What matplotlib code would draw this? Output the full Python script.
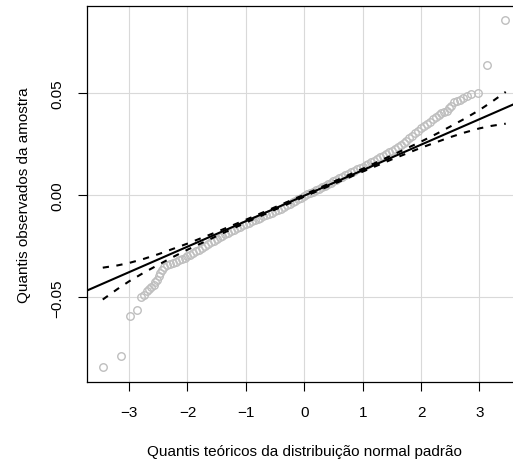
import matplotlib
matplotlib.use('Agg')
import matplotlib.pyplot as plt
import numpy as np

plt.rcParams['font.family'] = ['Liberation Sans', 'DejaVu Sans']

# observed quantiles read off the picture (theoretical, sample)
# lower tail
low_x = [-3.45, -3.13, -2.98, -2.87, -2.80, -2.75, -2.69, -2.66, -2.62, -2.58, -2.55, -2.52, -2.49, -2.47, -2.43]
low_y = [-0.0840, -0.0789, -0.0590, -0.0564, -0.0500, -0.0489, -0.0468, -0.0459, -0.0451, -0.0440, -0.0427, -0.0414, -0.0397, -0.0381, -0.0365]
# dense middle band
band_x = [-2.40, -2.35, -2.30, -2.25, -2.20, -2.15, -2.10, -2.05, -2.00, -1.95, -1.90, -1.85, -1.80, -1.75, -1.70, -1.65,
          -1.60, -1.55, -1.50, -1.45, -1.40, -1.35, -1.30, -1.25, -1.20, -1.15, -1.10, -1.05, -1.00, -0.95, -0.90, -0.85,
          -0.80, -0.75, -0.70, -0.65, -0.60, -0.55, -0.50, -0.45, -0.40, -0.35, -0.30, -0.25, -0.20, -0.15, -0.10, -0.05,
          0.00, 0.05, 0.10, 0.15, 0.20, 0.25, 0.30, 0.35, 0.40, 0.45, 0.50, 0.55, 0.60, 0.65, 0.70, 0.75,
          0.80, 0.85, 0.90, 0.95, 1.00, 1.05, 1.10, 1.15, 1.20, 1.25, 1.30, 1.35, 1.40, 1.45, 1.50, 1.55,
          1.60, 1.65, 1.70, 1.75, 1.80, 1.85, 1.90, 1.95, 2.00, 2.05, 2.10, 2.15, 2.20, 2.25, 2.30, 2.35, 2.40]
band_y = [-0.0352, -0.0344, -0.0337, -0.0331, -0.0325, -0.0319, -0.0313, -0.0307, -0.0300, -0.0291, -0.0282, -0.0274,
          -0.0266, -0.0257, -0.0249, -0.0240, -0.0231, -0.0222, -0.0214, -0.0206, -0.0199, -0.0191, -0.0184, -0.0177,
          -0.0170, -0.0162, -0.0155, -0.0148, -0.0141, -0.0135, -0.0128, -0.0122, -0.0115, -0.0110, -0.0104, -0.0099,
          -0.0093, -0.0086, -0.0079, -0.0072, -0.0065, -0.0057, -0.0050, -0.0043, -0.0035, -0.0027, -0.0019, -0.0011,
          -0.0003, 0.0004, 0.0011, 0.0018, 0.0025, 0.0032, 0.0040, 0.0047, 0.0055, 0.0062, 0.0070, 0.0077,
          0.0085, 0.0092, 0.0099, 0.0106, 0.0113, 0.0120, 0.0127, 0.0133, 0.0140, 0.0147, 0.0155, 0.0162,
          0.0170, 0.0178, 0.0186, 0.0194, 0.0202, 0.0210, 0.0218, 0.0227, 0.0236, 0.0245, 0.0256, 0.0268,
          0.0280, 0.0293, 0.0305, 0.0317, 0.0328, 0.0338, 0.0350, 0.0361, 0.0372, 0.0382, 0.0392, 0.0401, 0.0409]
# upper tail
high_x = [2.44, 2.48, 2.52, 2.57, 2.61, 2.67, 2.71, 2.78, 2.86, 2.97, 3.13, 3.44]
high_y = [0.0415, 0.0428, 0.0439, 0.0456, 0.0464, 0.0469, 0.0475, 0.0485, 0.0497, 0.0500, 0.0640, 0.0859]

# reference line
line_slope = 0.0125
line_icpt = -0.0002

# confidence envelope
env_x = [-3.45, -3.2, -3.0, -2.75, -2.5, -2.25, -2.0, -1.5, -1.0, 0.0, 1.0, 1.5, 2.0, 2.25, 2.5, 2.75, 3.0, 3.2, 3.45]
env_up = [-0.0355, -0.0344, -0.0332, -0.0312, -0.0289, -0.0263, -0.0237, -0.0180, -0.0120, 0.0003,
          0.0130, 0.0196, 0.0263, 0.0299, 0.0337, 0.0376, 0.0418, 0.0456, 0.0507]
env_lo = [-0.0511, -0.0460, -0.0422, -0.0380, -0.0341, -0.0303, -0.0267, -0.0200, -0.0134, -0.0007,
          0.0116, 0.0176, 0.0233, 0.0259, 0.0285, 0.0308, 0.0328, 0.0340, 0.0351]

qx = np.array(low_x + band_x + high_x)
qy = np.array(low_y + band_y + high_y)

fig = plt.figure(figsize=(5.13, 4.60), dpi=100)
ax = fig.add_axes([87 / 513, 1 - 382.7 / 460, (521.5 - 87) / 513, (382.7 - 7) / 460])

ax.set_xlim(-3.72, 3.72)
ax.set_ylim(-0.0914, 0.0928)

# grid
for v in [-3, -2, -1, 0, 1, 2, 3]:
    ax.axvline(v, color='#d9d9d9', lw=0.8, zorder=0)
for v in [-0.05, 0.0, 0.05]:
    ax.axhline(v, color='#d9d9d9', lw=0.8, zorder=0)

ax.plot(qx, qy, 'o', mfc='none', mec='#bebebe', ms=5.4, mew=1.0, zorder=2)
ax.axline((0, line_icpt), slope=line_slope, color='black', lw=1.5, zorder=3)
ax.plot(env_x, env_up, color='black', lw=1.5, ls=(0, (3.0, 3.6)), zorder=3)
ax.plot(env_x, env_lo, color='black', lw=1.5, ls=(0, (3.0, 3.6)), zorder=3)

ax.set_xticks([-3, -2, -1, 0, 1, 2, 3])
ax.set_xticklabels(['\u22123', '\u22122', '\u22121', '0', '1', '2', '3'])
ax.set_yticks([-0.05, 0.0, 0.05])
ax.set_yticklabels(['\u22120.05', '0.00', '0.05'], rotation=90, va='center')
ax.tick_params(length=6.5, width=0.8, pad=10, labelsize=11, direction='out')
for s in ax.spines.values():
    s.set_linewidth(0.9)

ax.set_xlabel('Quantis teóricos da distribuição normal padrão', fontsize=11, labelpad=18)
ax.set_ylabel('Quantis observados da amostra', fontsize=11, labelpad=14)

fig.savefig('out.png', dpi=100)
